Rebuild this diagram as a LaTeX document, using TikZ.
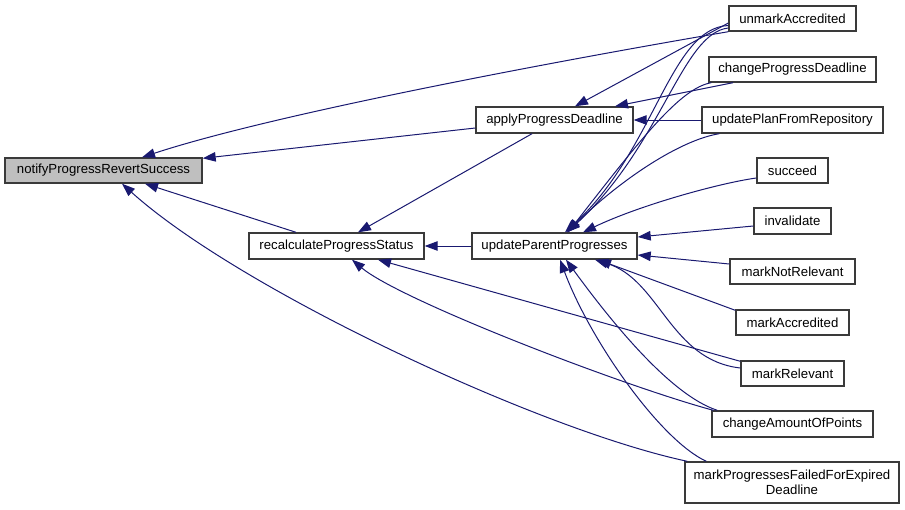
\documentclass[tikz,border=0pt]{standalone}
\usepackage{fontspec}
\setmainfont{Liberation Sans}
\usetikzlibrary{arrows.meta}
\definecolor{edgeblue}{HTML}{191970}
\definecolor{boxborder}{HTML}{3A3A3A}
\definecolor{hlfill}{HTML}{BFBFBF}
\begin{document}
\begin{tikzpicture}[x=1pt,y=-1pt,
  fn/.style={draw=boxborder,line width=1.4pt,fill=white,inner sep=0pt,
    font=\fontsize{13.2}{14.6}\selectfont,align=center},
  cur/.style={fn,fill=hlfill},
  call/.style={draw=edgeblue,line width=1pt,-{Triangle[length=13pt,width=9.5pt]}}]
\useasboundingbox (0,0) rectangle (905,509);
% nodes
\node[cur,minimum width=197pt,minimum height=25pt] (notify) at (103.5,170.5) {notifyProgressRevertSuccess};
\node[fn,minimum width=175pt,minimum height=26pt] (recalc) at (336.5,246) {recalculateProgressStatus};
\node[fn,minimum width=157pt,minimum height=26pt] (apply) at (554.5,120) {applyProgressDeadline};
\node[fn,minimum width=165pt,minimum height=26pt] (update) at (554.5,246) {updateParentProgresses};
\node[fn,minimum width=127pt,minimum height=25pt] (unmark) at (792.5,18.5) {unmarkAccredited};
\node[fn,minimum width=167pt,minimum height=25pt] (changePD) at (792.5,69.5) {changeProgressDeadline};
\node[fn,minimum width=181pt,minimum height=26pt] (updatePlan) at (792.5,120) {updatePlanFromRepository};
\node[fn,minimum width=71pt,minimum height=25pt] (succeed) at (792.5,170.5) {succeed};
\node[fn,minimum width=77pt,minimum height=26pt] (invalidate) at (792.5,221) {invalidate};
\node[fn,minimum width=125pt,minimum height=25pt] (mnr) at (792.5,271.5) {markNotRelevant};
\node[fn,minimum width=113pt,minimum height=25pt] (ma) at (792.5,322.5) {markAccredited};
\node[fn,minimum width=103pt,minimum height=25pt] (mr) at (792.5,373.5) {markRelevant};
\node[fn,minimum width=161pt,minimum height=26pt] (ca) at (792.5,424) {changeAmountOfPoints};
\node[fn,minimum width=214pt,minimum height=41pt] (mpf) at (792,482.5) {markProgressesFailedForExpired\\Deadline};
% edges to notify
\draw[call] (unmark.south west) .. controls (580,57) and (280,112) .. ([shift={(38.5,0)}]notify.north);
\draw[call] ([shift={(0,8)}]apply.west) -- ([shift={(0,1)}]notify.north east);
\draw[call] ([shift={(-40.5,0)}]recalc.north) -- ([shift={(41.5,0)}]notify.south);
\draw[call] ([shift={(3,0)}]mpf.north west) .. controls (540,430) and (240,290) .. ([shift={(18.5,0)}]notify.south);
% edges to apply
\draw[call] ([shift={(0,4.5)}]unmark.west) -- ([shift={(20.5,0)}]apply.north);
\draw[call] ([shift={(-59.5,0)}]changePD.south) -- ([shift={(60.5,0)}]apply.north);
\draw[call] (updatePlan.west) -- (apply.east);
% edges to recalc
\draw[call] ([shift={(-22.5,0)}]apply.south) -- ([shift={(21.5,0)}]recalc.north);
\draw[call] (update.west) -- (recalc.east);
\draw[call] ([shift={(0,1)}]mr.north west) -- ([shift={(41.5,0)}]recalc.south);
\draw[call] ([shift={(2,0)}]ca.north west) .. controls (620,385) and (400,300) .. ([shift={(15.5,0)}]recalc.south);
% edges to update
\draw[call] ([shift={(0,7)}]unmark.west) .. controls (670,28) and (655,150) .. ([shift={(10.5,0)}]update.north);
\draw[call] ([shift={(0,9.5)}]unmark.west) .. controls (682,33) and (662,145) .. ([shift={(12.5,0)}]update.north);
\draw[call] ([shift={(3,0)}]changePD.south west) .. controls (680,88) and (640,140) .. ([shift={(13.5,0)}]update.north);
\draw[call] ([shift={(18,0)}]updatePlan.south west) .. controls (680,140) and (620,180) .. ([shift={(12.5,0)}]update.north);
\draw[call] ([shift={(0,7.5)}]succeed.west) .. controls (720,183) and (640,205) .. ([shift={(28.5,0)}]update.north);
\draw[call] ([shift={(0,5)}]invalidate.west) -- ([shift={(0,-9)}]update.east);
\draw[call] ([shift={(0,-7.5)}]mnr.west) -- ([shift={(0,9)}]update.east);
\draw[call] ([shift={(0,1)}]ma.north west) -- ([shift={(43.5,0)}]update.south);
\draw[call] ([shift={(0,-5.5)}]mr.west) .. controls (670,360) and (660,280) .. ([shift={(40.5,0)}]update.south);
\draw[call] ([shift={(6,0)}]ca.north west) .. controls (670,395) and (610,320) .. ([shift={(11.5,0)}]update.south);
\draw[call] ([shift={(22,0)}]mpf.north west) .. controls (660,440) and (590,340) .. ([shift={(5.5,0)}]update.south);
\end{tikzpicture}
\end{document}
